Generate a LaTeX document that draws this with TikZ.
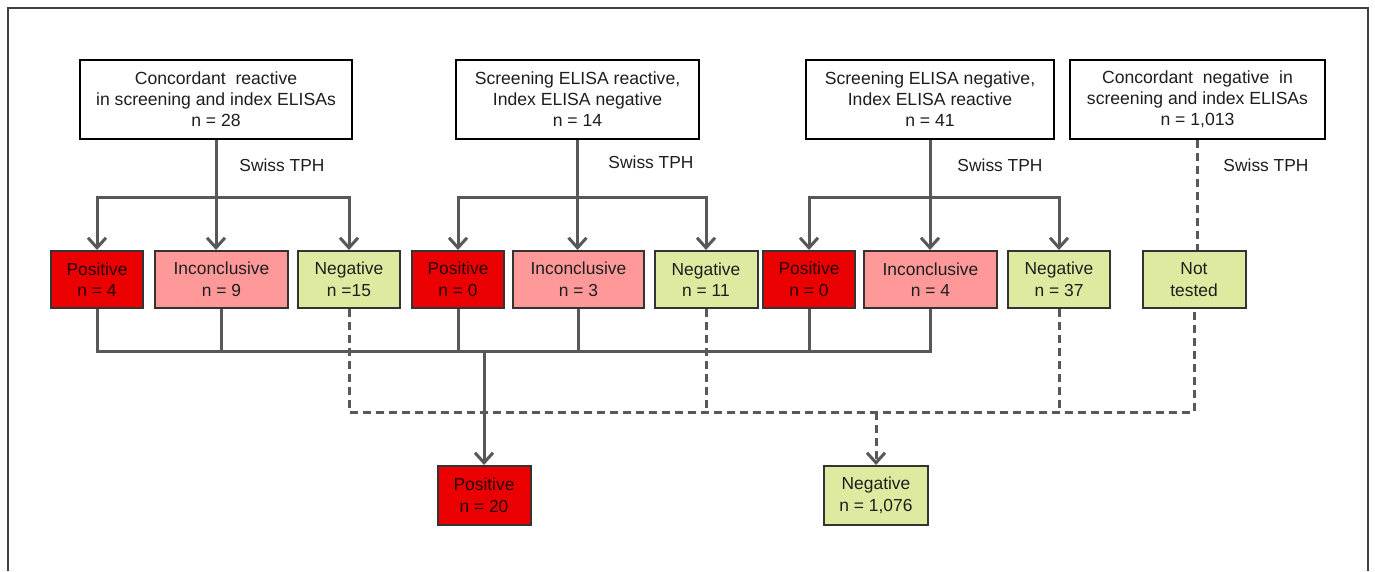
\documentclass[tikz,border=0pt]{standalone}
\usepackage{fontspec}
\setmainfont{Liberation Sans}
\usetikzlibrary{arrows.meta,calc}
\definecolor{posred}{RGB}{234,0,0}
\definecolor{incpink}{RGB}{255,153,153}
\definecolor{neggreen}{RGB}{222,234,160}
\definecolor{linegray}{RGB}{88,88,88}
\definecolor{txt}{RGB}{30,30,30}
\tikzset{
  topbox/.style={draw=black, line width=2.5pt, fill=white, minimum height=79pt, inner sep=0pt, align=center, text=txt, font=\fontsize{17.6}{21}\selectfont},
  resbox/.style={draw=black!80, line width=2pt, minimum height=57pt, inner sep=0pt, align=center, text=txt, font=\fontsize{17.4}{21.5}\selectfont},
  posbox/.style={resbox, fill=posred, minimum width=92pt, text=black!85!red},
  incbox/.style={resbox, fill=incpink, minimum width=132pt},
  negbox/.style={resbox, fill=neggreen, minimum width=102pt},
  conn/.style={draw=linegray, line width=3pt},
  arr/.style={conn, -{Straight Barb[length=10pt,width=18pt,line width=3pt]}},
  dconn/.style={conn, dash pattern=on 8pt off 5pt},
  darr/.style={dconn, -{Straight Barb[length=10pt,width=18pt,line width=3pt]}},
  lab/.style={text=txt, font=\fontsize{17.4}{21}\selectfont, inner sep=0pt},
}
\begin{document}
\begin{tikzpicture}[x=1pt,y=-1pt]
\useasboundingbox (0,0) rectangle (1375,571);
\draw[black!75, line width=1.3pt] (8,571) -- (8,8) -- (1368,8) -- (1368,571);

% top boxes
\node[topbox, minimum width=272pt] (b1) at (216,99.5) {Concordant\ \ reactive\\in screening and index ELISAs\\n = 28};
\node[topbox, minimum width=243pt] (b2) at (577.5,99.5) {Screening ELISA reactive,\\Index ELISA negative\\n = 14};
\node[topbox, minimum width=248pt] (b3) at (930,99.5) {Screening ELISA negative,\\Index ELISA reactive\\n = 41};
\node[topbox, minimum width=255pt] (b4) at (1197.5,99.5) {Concordant\ \ negative\ \ in\\screening and index ELISAs\\n = 1,013};

% Swiss TPH labels
\node[lab] (s1) at (282,165) {Swiss TPH};
\node[lab] (s2) at (651,162) {Swiss TPH};
\node[lab] (s3) at (1000,165) {Swiss TPH};
\node[lab] (s4) at (1266,165) {Swiss TPH};

% result boxes
\node[posbox] (p1) at (97,279.5) {Positive\\n = 4};
\node[incbox, minimum width=133pt] (i1) at (221.5,279.5) {Inconclusive\\n = 9};
\node[negbox] (n1) at (349,279.5) {Negative\\n =15};
\node[posbox] (p2) at (458,279.5) {Positive\\n = 0};
\node[incbox, minimum width=131pt] (i2) at (578.5,279.5) {Inconclusive\\n = 3};
\node[negbox, minimum width=103pt] (n2) at (706,279.5) {Negative\\n = 11};
\node[posbox] (p3) at (809,279.5) {Positive\\n = 0};
\node[incbox, minimum width=133pt] (i3) at (930.5,279.5) {Inconclusive\\n = 4};
\node[negbox] (n3) at (1059,279.5) {Negative\\n = 37};
\node[negbox, minimum width=103pt] (nt) at (1194,279.5) {Not\\tested};

% final boxes
\node[posbox, minimum width=93pt, minimum height=59pt] (fp) at (484,495.5) {Positive\\n = 20};
\node[negbox, minimum width=104pt, minimum height=59pt] (fn) at (876,495.5) {Negative\\n = 1,076};

% branch levels
\coordinate (br) at (0,197);
\coordinate (sj) at (0,351);
\coordinate (dj) at (0,412);

% branching from top boxes
\foreach \b/\l/\m/\r in {b1/p1/i1/n1, b2/p2/i2/n2, b3/p3/i3/n3}{
  \draw[conn] (\b.south) -- (\b.south |- br);
  \draw[arr] (\b.south |- br) -- (\b.south |- \m.north);
  \draw[arr] (\b.south |- br) -| (\l.north);
  \draw[arr] (\b.south |- br) -| (\r.north);
}
\draw[dconn] (b4.south) -- (b4.south |- nt.north);

% solid joins to final positive
\draw[conn] (p1.south) -- (p1.south |- sj) -- (i3.south |- sj) -- (i3.south);
\foreach \n in {i1,p2,i2,p3}{
  \draw[conn] (\n.south) -- (\n.south |- sj);
}
\draw[arr] (fp.north |- sj) -- (fp.north);

% dashed joins to final negative
\draw[dconn] (n1.south) -- (n1.south |- dj) -- (nt.south |- dj) -- (nt.south);
\foreach \n in {n2,n3}{
  \draw[dconn] (\n.south) -- (\n.south |- dj);
}
\draw[darr] (fn.north |- dj) -- (fn.north);
\end{tikzpicture}
\end{document}
